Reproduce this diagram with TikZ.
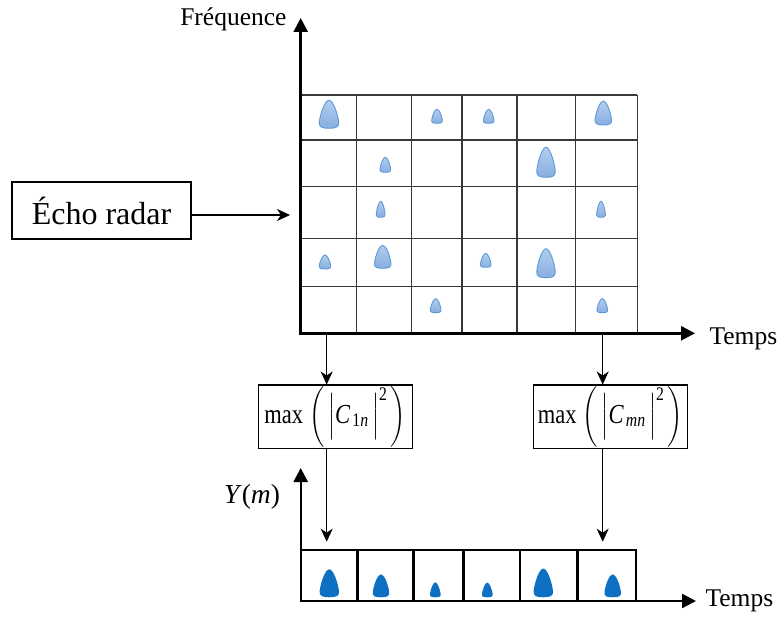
\documentclass[tikz,border=0pt]{standalone}
\usepackage{amsmath}
\usepackage{fontspec}
\setmainfont{Liberation Serif}
\usetikzlibrary{arrows.meta}
\makeatletter
\newcommand\dparL{\mathopen{\bBigg@{1.75}(}}
\newcommand\dparR{\mathclose{\bBigg@{1.75})}}
\newcommand\dbarL{\mathopen{\bBigg@{1.35}|}}
\newcommand\dbarR{\mathclose{\bBigg@{1.35}|}}
\makeatother
\begin{document}
\begin{tikzpicture}[x=1pt,y=-1pt,
  axis/.style={line width=2.6pt,{Triangle[length=14pt,width=14pt]}-{Triangle[length=14pt,width=14pt]}},
  gridline/.style={line width=1.2pt,draw=black!78},
  rowline/.style={line width=2.4pt,draw=black},
  conn/.style={line width=1.1pt,-{Stealth[length=13pt,width=12pt,inset=4pt]}},
  box/.style={draw,line width=1.1pt,inner sep=0pt},
  lbl/.style={font=\fontsize{25.5}{30}\selectfont},
  mathlbl/.style={font=\fontsize{22.5}{25}\selectfont},
  lightdrop/.style={draw={rgb,255:red,91;green,155;blue,213},line width=0.9pt,
    top color={rgb,255:red,178;green,205;blue,238},bottom color={rgb,255:red,136;green,174;blue,224}},
  darkdrop/.style={fill={rgb,255:red,14;green,112;blue,194}},
  pics/drop/.style n args={3}{code={
    \path[#3,x=#1pt,y=#2pt] (0,1) .. controls (0.2,1) and (0.42,0.55) .. (0.48,0.25)
      .. controls (0.53,0.04) and (0.35,0) .. (0,0)
      .. controls (-0.35,0) and (-0.53,0.04) .. (-0.48,0.25)
      .. controls (-0.42,0.55) and (-0.2,1) .. (0,1) -- cycle;
  }}]
\useasboundingbox (0,0) rectangle (779,617);

% grid
\foreach \x in {356.7,411.7,462,517,575.7,637.3} \draw[gridline] (\x,95) -- (\x,333.3);
\foreach \y in {95,140,186.7,238.3,286.7} \draw[gridline] (300.7,\y) -- (637.3,\y);

% drops in grid
\pic at (329,128.3) {drop={20}{28}{lightdrop}};
\pic at (437,123.3) {drop={11}{14}{lightdrop}};
\pic at (488.7,123.3) {drop={11}{14}{lightdrop}};
\pic at (603.3,125) {drop={17}{24}{lightdrop}};
\pic at (385.3,172.3) {drop={11}{15}{lightdrop}};
\pic at (546,177.3) {drop={19}{30}{lightdrop}};
\pic at (380.7,217.3) {drop={9}{16}{lightdrop}};
\pic at (601,217.3) {drop={9}{16}{lightdrop}};
\pic at (325,269) {drop={12}{14}{lightdrop}};
\pic at (382.7,268.3) {drop={17}{23}{lightdrop}};
\pic at (485.7,267.3) {drop={11}{14}{lightdrop}};
\pic at (546,277.7) {drop={19}{29}{lightdrop}};
\pic at (435.7,312.7) {drop={11}{14}{lightdrop}};
\pic at (602.3,312.7) {drop={11}{14}{lightdrop}};

% main axes
\draw[axis] (300.7,18) -- (300.7,333.3) -- (695,333.3);
\node[lbl,anchor=base east] (freq) at (290,26) {Fréquence};
\node[lbl,anchor=base west] (t1) at (706,345) {Temps};

% echo radar
\node[box,minimum width=179pt,minimum height=57pt,font=\fontsize{32}{36}\selectfont] (echo) at (101.5,210.5) {Écho radar};
\coordinate (ein) at (290,215);
\draw[conn] (echo.east |- ein) -- (ein);

% max boxes
\node[box,mathlbl,minimum width=154pt,minimum height=63.3pt] (m1) at (335.3,416.7)
  {\scalebox{1}[1.22]{max\;$\dparL\,\dbarL\textit{C}_{\,\text{1}\textit{n}}\,\dbarR^{\text{2}}\,\dparR$}};
\node[box,mathlbl,minimum width=154pt,minimum height=63.3pt] (m2) at (610.5,416.7)
  {\scalebox{1}[1.22]{max\;$\dparL\,\dbarL\textit{C}_{\,\textit{mn}}\,\dbarR^{\text{2}}\,\dparR$}};

\coordinate (a1) at (326.7,333.3);
\coordinate (a2) at (602.7,333.3);
\draw[conn] (a1) -- (a1 |- m1.north);
\draw[conn] (a2) -- (a2 |- m2.north);
\coordinate (b1) at (326.7,541.7);
\coordinate (b2) at (602.7,541.7);
\draw[conn] (b1 |- m1.south) -- (b1);
\draw[conn] (b2 |- m2.south) -- (b2);

% bottom row
\draw[rowline] (300.7,550) -- (636.9,550);
\foreach \x in {357.3,413.3,463.3,520,577.3,635.7} \draw[rowline] (\x,550) -- (\x,601);
\pic at (329.3,597.3) {drop={20}{28}{darkdrop}};
\pic at (381,597.3) {drop={17}{23}{darkdrop}};
\pic at (435.3,597.3) {drop={11}{15}{darkdrop}};
\pic at (487.3,597.3) {drop={11}{14.7}{darkdrop}};
\pic at (543.3,597.3) {drop={20}{28.7}{darkdrop}};
\pic at (612.7,597.3) {drop={17}{23}{darkdrop}};
\draw[axis,line width=2.4pt] (300.7,468) -- (300.7,601) -- (696,601);
\node[font=\fontsize{27.5}{30}\selectfont] (ym) at (252,497) {\textit{Y}(\textit{m})};
\node[lbl,anchor=base west] (t2) at (702,606) {Temps};
\end{tikzpicture}
\end{document}
